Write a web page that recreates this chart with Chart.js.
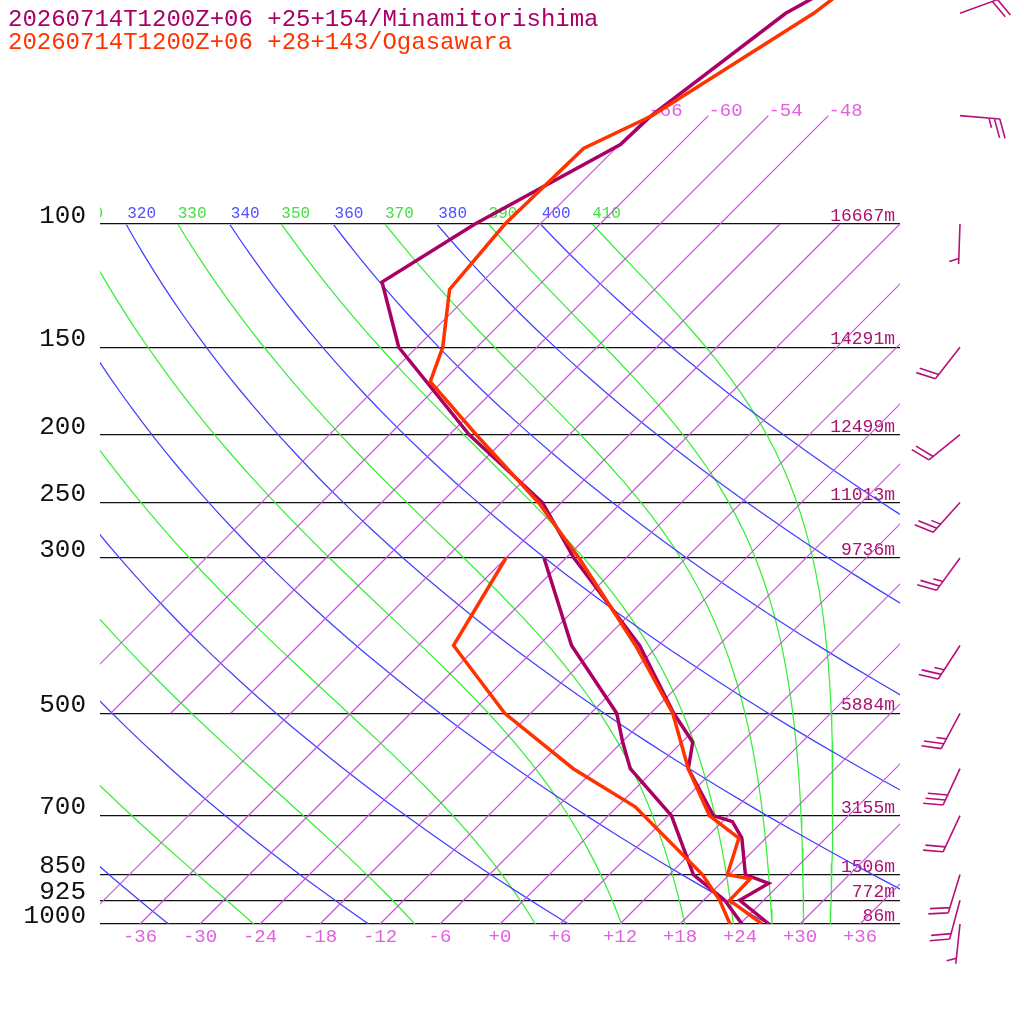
<!DOCTYPE html>
<html>
<head>
<meta charset="utf-8">
<script src="https://cdn.jsdelivr.net/npm/chart.js@4.4.1/dist/chart.umd.min.js"></script>
<style>
  html, body { margin: 0; padding: 0; background: #fff; }
  #wrap { width: 1024px; height: 1024px; }
</style>
</head>
<body>
<div id="wrap"><canvas id="c" width="1024" height="1024"></canvas></div>
<script>
const MONO = '"Liberation Mono", "DejaVu Sans Mono", monospace';
const MAG = '#aa0066';
const RED = '#ff3300';
const ISO = '#d446ea';

const titleLines = ['20260714T1200Z+06 +25+154/Minamitorishima', '20260714T1200Z+06 +28+143/Ogasawara'];
const titleColors = [MAG, RED];

// pressure levels (hPa) with standard-level heights at the right
const levels  = [1000, 925, 850, 700, 500, 300, 250, 200, 150, 100];
const heights = ['86m', '772m', '1506m', '3155m', '5884m', '9736m', '11013m', '12499m', '14291m', '16667m'];
const tempTicks = [-36, -30, -24, -18, -12, -6, 0, 6, 12, 18, 24, 30, 36];

// Minamitorishima: temperature and dew point (hPa, degC)
const mtP = [1000, 925, 875, 850, 754, 714, 700, 600, 550, 500, 400, 300, 250, 200, 150, 121, 100, 77, 70, 50, 47];
const mtT = [26.9, 21.6, 22.8, 19.6, 15.6, 13.0, 10.5, 3.3, 1.1, -3.7, -13.9, -29.2, -37.9, -52.0, -67.8, -76.0, -72.5, -65.9, -65.7, -62.5, -61.0];
const mdP = [1000, 925, 850, 700, 600, 550, 500, 400, 300];
const mdT = [24.2, 20.1, 14.4, 6.3, -2.5, -5.9, -9.4, -20.7, -32.2];

// Ogasawara: temperature and dew point
const otP = [1000, 925, 862, 850, 754, 700, 600, 500, 400, 300, 250, 200, 168, 150, 124, 100, 78, 70, 50, 47];
const otT = [26.2, 20.6, 20.5, 17.8, 15.3, 10.1, 3.3, -3.8, -14.3, -28.7, -38.3, -51.3, -61.2, -63.4, -68.5, -69.5, -69.2, -65.6, -59.7, -59.1];
const odP = [1000, 925, 850, 680, 600, 500, 400, 300];
const odT = [23.0, 19.6, 15.3, 1.8, -8.2, -20.6, -32.5, -36.0];

// Minamitorishima winds (direction deg, speed kt)
const windP   = [1000, 925, 850, 700, 600, 500, 400, 300, 250, 200, 150, 100, 70, 50];
const windDir = [186, 195, 197, 205, 205, 208, 213, 216, 222, 231, 218, 182, 95, 70];
const windKt  = [5, 20, 20, 20, 30, 25, 25, 25, 25, 20, 20, 5, 25, 20];

// background lines of the diagram
const isoWarm = [-42, -36, -30, -24, -18, -12, -6, 0, 6, 12, 18, 24, 30, 36]; // 1000 -> 100 hPa
const isoCold = [-66, -60, -54, -48];                                         // 500 -> 70 hPa
const dryTheta   = [240, 260, 280, 300, 320, 340, 360, 380, 400];
const moistTheta = [250, 270, 290, 310, 330, 350, 370, 390, 410];

const PTOP = 47.86;   // top of the plot
const SKEW = 30.4;    // degC of skew per unit ln(p)
const KAPPA = 0.2857, RD = 287.04, CP = 1005.7, LV = 2.501e6, EPS = 0.622;

const skewX = (t, p) => t + SKEW * Math.log(1000 / p);

function line(ps, ts, color, width) {
  return {
    data: ps.map((p, i) => ({ x: skewX(ts[i], p), y: p })),
    showLine: true, borderColor: color, borderWidth: width,
    pointRadius: 0, tension: 0, fill: false
  };
}

// dry adiabat: Poisson's equation
function dryCurve(theta) {
  const ps = [], ts = [];
  for (let l = 0; l <= 2.31; l += 0.05) {
    const p = Math.max(100, 1000 * Math.exp(-l));
    ps.push(p); ts.push(theta * Math.pow(p / 1000, KAPPA) - 273.15);
  }
  return { ps, ts };
}

// saturated (pseudo) adiabat, integrated down from 100 hPa
function lapse(T, p) {
  const tc = T - 273.15;
  const es = 6.112 * Math.exp(17.67 * tc / (tc + 243.5));
  const rs = EPS * es / (p - es);
  return (RD * T + LV * rs) / (CP + LV * LV * rs * EPS / (RD * T * T));
}
function moistCurve(theta) {
  let T = theta * Math.pow(0.1, KAPPA), p = 100;
  const ps = [p], ts = [T - 273.15];
  const n = 460, h = Math.log(10) / n;
  for (let i = 1; i <= n; i++) {
    const k1 = lapse(T, p);
    const k2 = lapse(T + k1 * h / 2, p * Math.exp(h / 2));
    T += k2 * h; p *= Math.exp(h);
    if (i % 10 === 0 || i === n) { ps.push(Math.min(p, 1000)); ts.push(T - 273.15); }
  }
  return { ps, ts };
}

const dryCurves = dryTheta.map(dryCurve);
const moistCurves = moistTheta.map(moistCurve);

const datasets = [
  line(otP, otT, RED, 3.5),
  line(odP, odT, RED, 3.5),
  line(mtP, mtT, MAG, 3.5),
  line(mdP, mdT, MAG, 3.5),
  ...isoWarm.map(t => line([1000, 100], [t, t], ISO, 1.2)),
  ...isoCold.map(t => line([500, 70], [t, t], ISO, 1.2)),
  ...dryCurves.map(c => line(c.ps, c.ts, '#4040ff', 1.25)),
  ...moistCurves.map(c => line(c.ps, c.ts, '#38ee38', 1.25))
];

function drawBarb(ctx, bx, by, dir, kt) {
  const r = dir * Math.PI / 180;
  const ux = Math.sin(r), uy = -Math.cos(r);
  const ex = bx + ux * 40, ey = by + uy * 40;
  const fa = Math.atan2(uy, ux) + 70 * Math.PI / 180;
  const fx = Math.cos(fa), fy = Math.sin(fa);
  ctx.beginPath();
  ctx.moveTo(bx, by); ctx.lineTo(ex, ey);
  const feather = (i, len) => {
    const sx = ex - ux * i * 5.5, sy = ey - uy * i * 5.5;
    ctx.moveTo(sx, sy); ctx.lineTo(sx + fx * len, sy + fy * len);
  };
  let n = kt, i = kt < 10 ? 1 : 0;
  while (n >= 10) { feather(i++, 20); n -= 10; }
  if (n >= 5) feather(i, 10);
  ctx.stroke();
}

const decor = {
  id: 'decor',
  beforeDatasetsDraw(chart) {
    const { ctx, chartArea: a, scales: { x, y } } = chart;
    ctx.save();
    ctx.beginPath();
    ctx.rect(a.left, a.top, a.right - a.left, a.bottom - a.top);
    ctx.clip();
    ctx.textBaseline = 'alphabetic';
    ctx.textAlign = 'left';
    // adiabat labels just above 100 hPa
    ctx.font = '16px ' + MONO;
    const y100 = y.getPixelForValue(100) - 6;
    dryCurves.forEach((c, k) => {
      ctx.fillStyle = '#5050ff';
      ctx.fillText(String(dryTheta[k]), x.getPixelForValue(skewX(c.ts[c.ts.length - 1], 100)), y100);
    });
    moistCurves.forEach((c, k) => {
      ctx.fillStyle = '#44e044';
      ctx.fillText(String(moistTheta[k]), x.getPixelForValue(skewX(c.ts[0], 100)), y100);
    });
    // isotherm labels at their upper end
    ctx.font = '19px ' + MONO;
    ctx.fillStyle = '#e060e0';
    isoCold.forEach(t => {
      ctx.fillText(String(t), x.getPixelForValue(skewX(t, 70)), y.getPixelForValue(70));
    });
    // level heights
    ctx.font = '18px ' + MONO;
    ctx.textAlign = 'right';
    ctx.fillStyle = '#aa1170';
    levels.forEach((p, k) => ctx.fillText(heights[k], a.right - 5, y.getPixelForValue(p) - 3));
    ctx.restore();
  },
  afterDraw(chart) {
    const { ctx, chartArea: a, scales: { y } } = chart;
    ctx.save();
    ctx.font = '24px ' + MONO;
    ctx.textAlign = 'left';
    ctx.textBaseline = 'alphabetic';
    titleLines.forEach((t, k) => { ctx.fillStyle = titleColors[k]; ctx.fillText(t, 8, 26 + 23 * k); });
    ctx.strokeStyle = '#b8107a';
    ctx.lineWidth = 1.6;
    windP.forEach((p, k) => drawBarb(ctx, a.right + 60, y.getPixelForValue(p), windDir[k], windKt[k]));
    ctx.restore();
  }
};

// keep the plot area fixed: no extra room for the outer tick labels
const noPad = s => { s.paddingTop = 0; s.paddingBottom = 0; s.paddingLeft = 0; s.paddingRight = 0; };

new Chart(document.getElementById('c'), {
  type: 'scatter',
  data: { datasets },
  options: {
    responsive: false,
    devicePixelRatio: 1,
    animation: false,
    events: [],
    layout: { padding: { left: 0, right: 124, top: 0, bottom: 0 } },
    plugins: { legend: { display: false }, tooltip: { enabled: false } },
    scales: {
      x: {
        type: 'linear', min: -40, max: 40, bounds: 'data',
        grid: { display: false, drawTicks: false }, border: { display: false },
        afterBuildTicks: s => { s.ticks = tempTicks.map(v => ({ value: v })); },
        afterFit: s => { s.height = 100; noPad(s); },
        ticks: {
          color: '#e060e0', font: { family: MONO, size: 19 }, padding: 2,
          autoSkip: false, maxRotation: 0,
          callback: v => (v >= 0 ? '+' : '') + v
        }
      },
      y: {
        type: 'logarithmic', reverse: true, min: PTOP, max: 1000, bounds: 'data',
        grid: { color: '#111', lineWidth: 1.3, drawTicks: false }, border: { display: false },
        afterBuildTicks: s => { s.ticks = levels.map(v => ({ value: v })); },
        afterFit: s => { s.width = 100; noPad(s); },
        ticks: {
          color: '#111', font: { family: MONO, size: 26 }, padding: 14, labelOffset: -8,
          autoSkip: false, callback: v => String(v)
        }
      }
    }
  },
  plugins: [decor]
});
</script>
</body>
</html>
